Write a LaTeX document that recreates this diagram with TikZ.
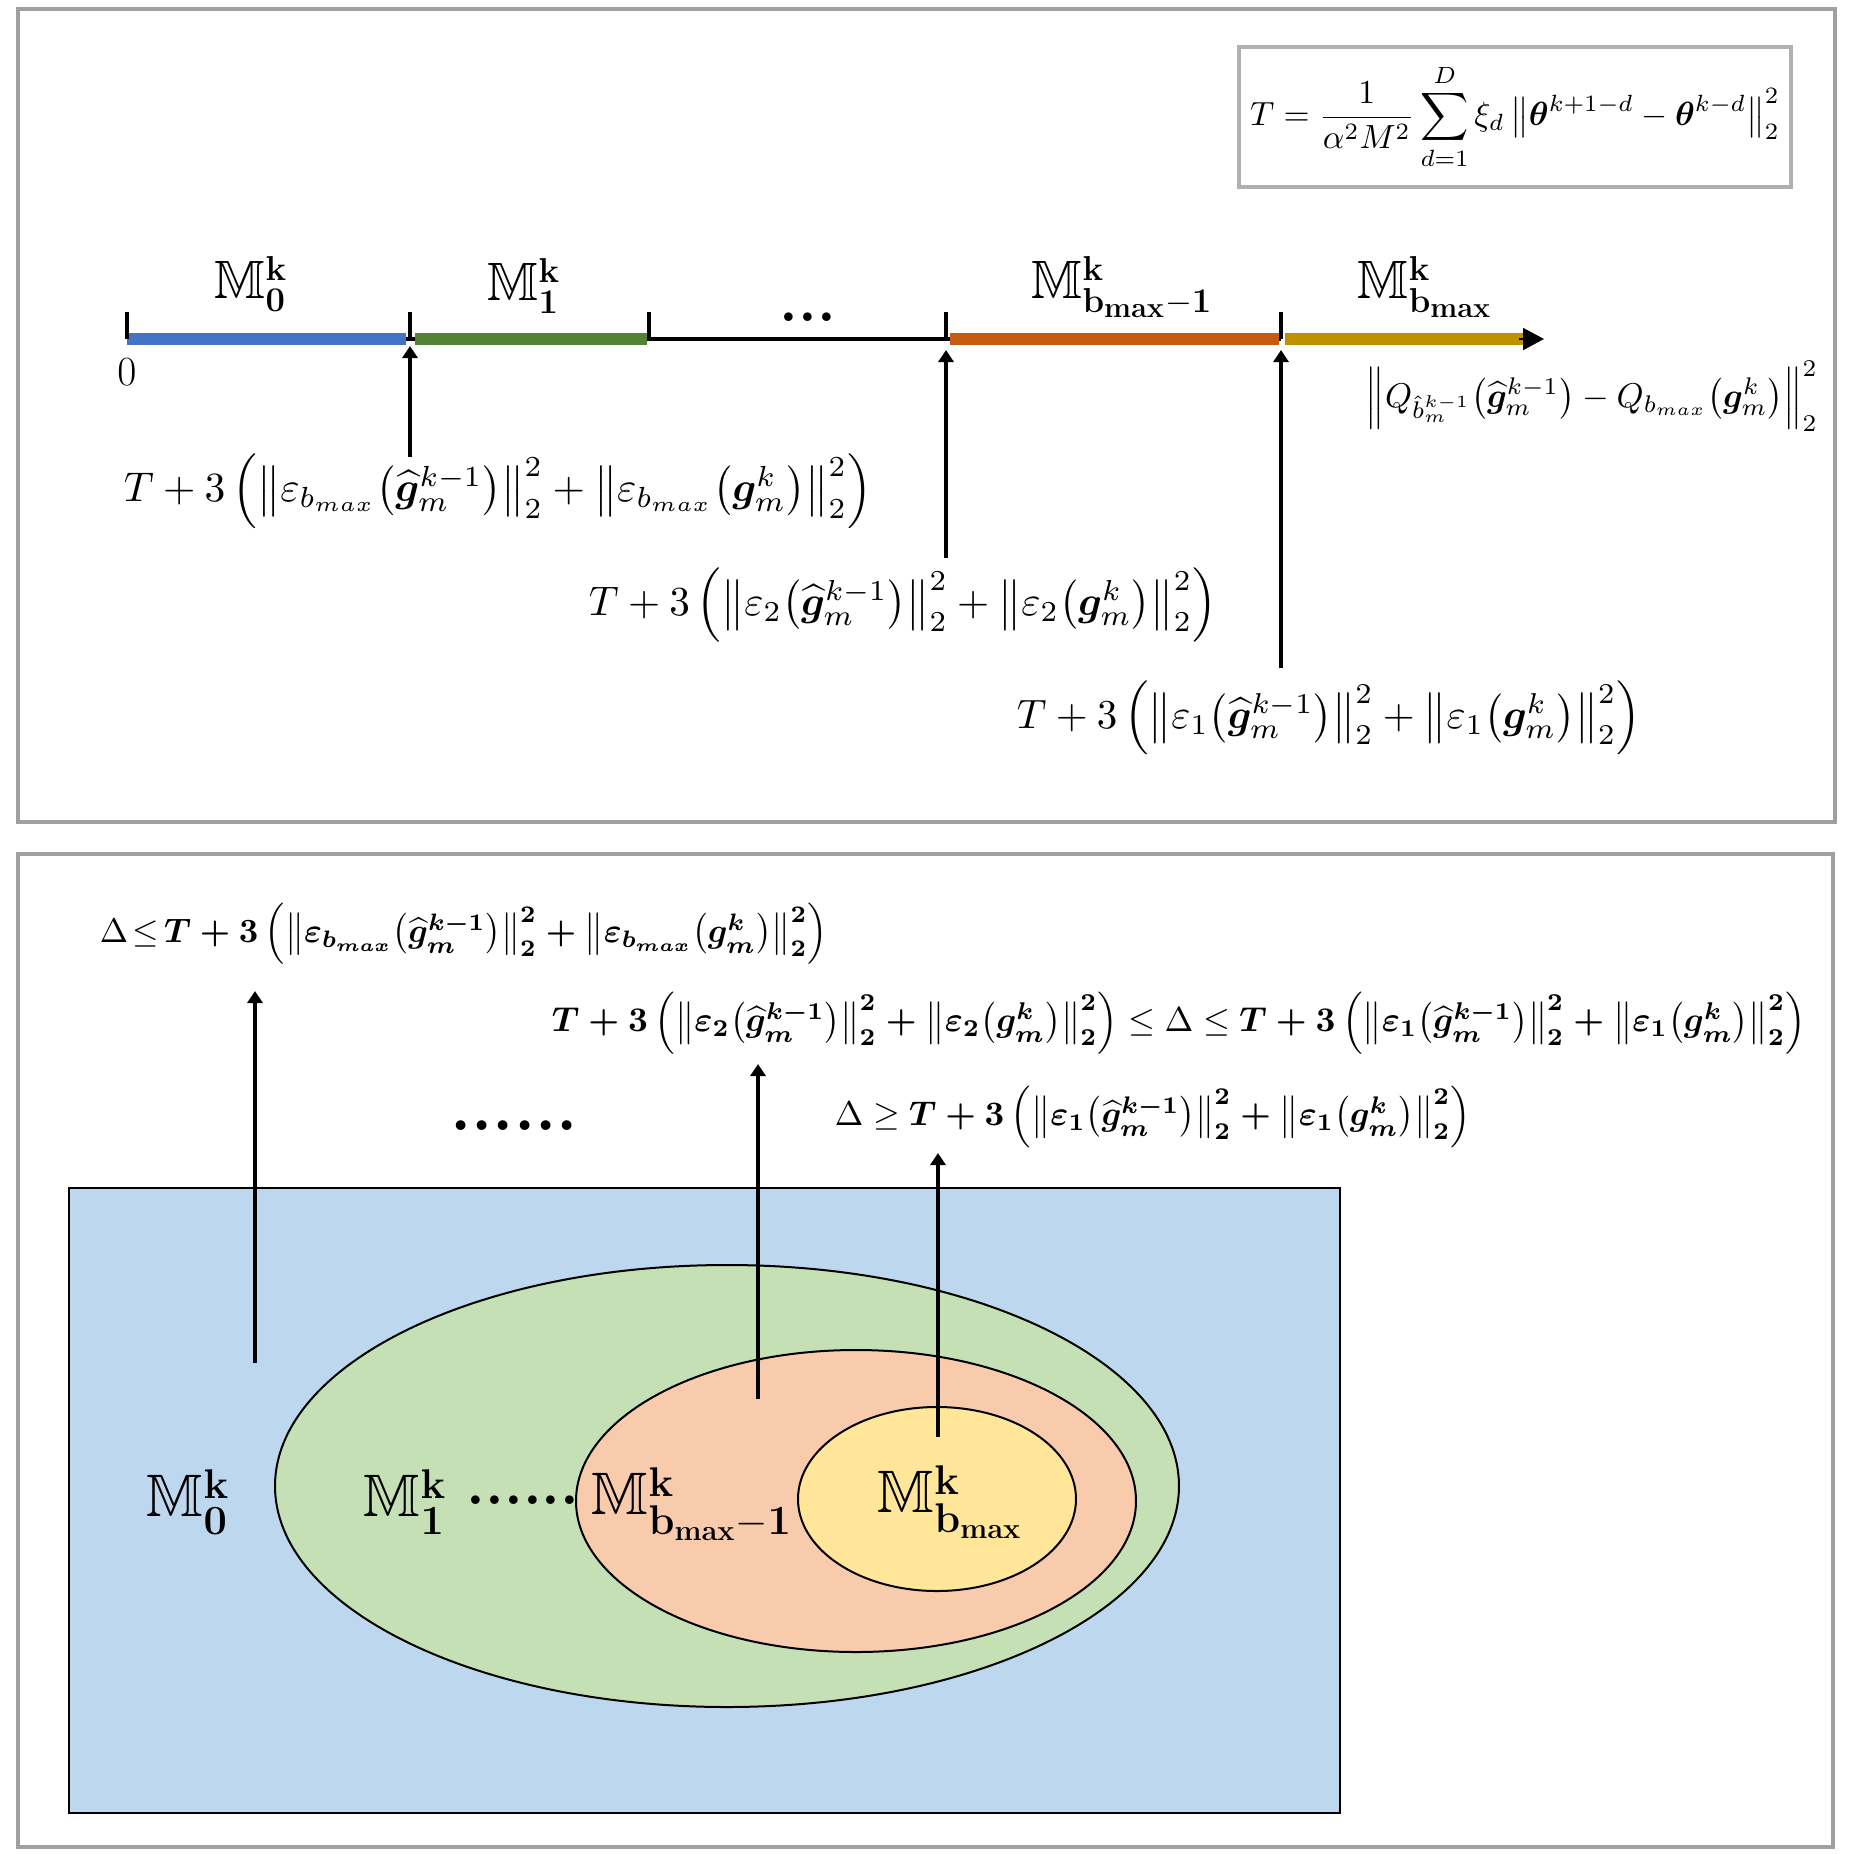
\documentclass[tikz,border=0pt]{standalone}
\usepackage{amsmath,amssymb,bm}
\usepackage{graphicx}
\usetikzlibrary{arrows.meta}
\definecolor{panelgray}{HTML}{A0A0A0}
\definecolor{boxgray}{HTML}{B0B0B0}
\definecolor{axblue}{HTML}{4472C4}
\definecolor{axgreen}{HTML}{548235}
\definecolor{axorange}{HTML}{C55A11}
\definecolor{axgold}{HTML}{BF9000}
\definecolor{setblue}{HTML}{BDD7EE}
\definecolor{setgreen}{HTML}{C5E0B4}
\definecolor{setorange}{HTML}{F8CBAD}
\definecolor{setyellow}{HTML}{FFE699}
\newcommand{\errterm}[1]{\left\|\varepsilon_{#1}\!\left(\widehat{\bm g}_m^{k-1}\right)\right\|_2^2+\left\|\varepsilon_{#1}\!\left(\bm g_m^{k}\right)\right\|_2^2}
\newcommand{\boundterm}[1]{T+3\left(\errterm{#1}\right)}
\newcommand{\bmx}{b_{max}}
\begin{document}
\begin{tikzpicture}[x=0.5pt,y=-0.5pt,
  panel/.style={draw=panelgray,line width=2pt},
  seg/.style={line width=6pt},
  tickmark/.style={line width=2pt},
  arr/.style={line width=2pt,-{Triangle[length=6pt,width=7.5pt]}},
  lbl/.style={inner sep=0pt},
  mlab/.style={inner sep=0pt,font=\fontsize{27}{30}\selectfont},
  mlabb/.style={inner sep=0pt,font=\fontsize{30}{33}\selectfont},
  setshape/.style={draw=black,line width=1pt}]
\useasboundingbox (0,0) rectangle (1854,1854);

% ---------------- top panel ----------------
\draw[panel] (18,9) rectangle (1835,822);
\node[draw=boxgray,line width=2pt,minimum width=276pt,minimum height=70pt,inner sep=0pt] (Tdef) at (1515,117)
  {\resizebox{265pt}{!}{$\displaystyle T=\frac{1}{\alpha^2M^2}\sum_{d=1}^{D}\xi_d\left\|\bm\theta^{k+1-d}-\bm\theta^{k-d}\right\|_2^2$}};

\coordinate (t0) at (127,339);
\coordinate (t1) at (410,339);
\coordinate (t2) at (649,339);
\coordinate (t3) at (946,339);
\coordinate (t4) at (1281,339);
\coordinate (gend) at (1523,339);
\coordinate (aend) at (1544,339);

\draw[line width=2pt] (t0) -- (t4);
\draw[seg,axblue] (t0) -- ([xshift=-2pt]t1);
\draw[seg,axgreen] ([xshift=2.5pt]t1) -- ([xshift=-1pt]t2);
\draw[seg,axorange] ([xshift=2pt]t3) -- ([xshift=-1pt]t4);
\draw[seg,axgold] ([xshift=2pt]t4) -- (gend);
\draw[line width=1pt,-{Triangle[length=10.5pt,width=11pt]}] ([xshift=-2pt]gend) -- (aend);
\foreach \t in {t0,t1,t2,t3,t4}{\draw[tickmark] (\t) -- ++(0,-27);}

\node[lbl,font=\fontsize{20}{24}\selectfont] (zero) at (127,372) {$0$};
\node[mlab] (m0) at (251,284) {$\mathbb{M}^{\mathbf{k}}_{\mathbf{0}}$};
\node[mlab] (m1) at (524,286) {$\mathbb{M}^{\mathbf{k}}_{\mathbf{1}}$};
\node[lbl,font=\fontsize{30}{30}\selectfont\bfseries] (tdots) at (808,317) {...};
\node[mlab] (mbm1) at (1122,287) {$\mathbb{M}^{\mathbf{k}}_{\mathbf{b_{max}-1}}$};
\node[mlab] (mbmax) at (1425,287) {$\mathbb{M}^{\mathbf{k}}_{\mathbf{b_{max}}}$};

\node[lbl] (Q) at (1592,396) {\resizebox{226pt}{!}{$\left\|Q_{\hat b_m^{k-1}}\!\left(\widehat{\bm g}_m^{k-1}\right)-Q_{\bmx}\!\left(\bm g_m^{k}\right)\right\|_2^2$}};

\node[lbl] (L1) at (498,491) {\resizebox{374pt}{!}{$\boundterm{\bmx}$}};
\node[lbl] (L2) at (903,605) {\resizebox{314pt}{!}{$\boundterm{2}$}};
\node[lbl] (L3) at (1329,718) {\resizebox{312pt}{!}{$\boundterm{1}$}};

\coordinate (a1b) at (410,457);  \coordinate (a1t) at (410,346);
\coordinate (a2b) at (946,558);  \coordinate (a2t) at (946,350);
\coordinate (a3b) at (1281,668); \coordinate (a3t) at (1281,350);
\draw[arr] (a1b) -- (a1t);
\draw[arr] (a2b) -- (a2t);
\draw[arr] (a3b) -- (a3t);

% ---------------- bottom panel ----------------
\draw[panel] (18,854) rectangle (1833,1847);
\draw[setshape,fill=setblue,line width=1.4pt] (69,1188) rectangle (1340,1813);
\draw[setshape,fill=setgreen] (727,1486) ellipse [x radius=226pt, y radius=110.5pt];
\draw[setshape,fill=setorange] (856,1501) ellipse [x radius=140pt, y radius=75.5pt];
\draw[setshape,fill=setyellow] (937,1499) ellipse [x radius=69.5pt, y radius=46pt];

\node[mlabb] (bm0) at (188,1502) {$\mathbb{M}^{\mathbf{k}}_{\mathbf{0}}$};
\node[mlabb] (bm1) at (405,1502) {$\mathbb{M}^{\mathbf{k}}_{\mathbf{1}}$};
\node[lbl,font=\fontsize{30}{30}\selectfont\bfseries] (mdots) at (523,1500) {......};
\node[mlabb] (bmbm1) at (692,1504) {$\mathbb{M}^{\mathbf{k}}_{\mathbf{b_{max}-1}}$};
\node[mlabb] (bmbmax) at (950,1502) {$\mathbb{M}^{\mathbf{k}}_{\mathbf{b_{max}}}$};

\node[lbl] (B1) at (464,934) {\resizebox{364pt}{!}{$\Delta\!\le$\,{\boldmath$T+3\left(\errterm{\bmx}\right)$}}};
\node[lbl] (B2) at (1179,1023) {\resizebox{627pt}{!}{{\boldmath$\boundterm{2}$}\;$\le\Delta\le$\;{\boldmath$\boundterm{1}$}}};
\node[lbl] (B3) at (1153,1117) {\resizebox{318pt}{!}{$\Delta\ge$\;{\boldmath$\boundterm{1}$}}};
\node[lbl,font=\fontsize{34}{34}\selectfont\bfseries] (bdots) at (514,1126) {......};

\coordinate (b1b) at (255,1363); \coordinate (b1t) at (255,991);
\coordinate (b2b) at (758,1399); \coordinate (b2t) at (758,1064);
\coordinate (b3b) at (938,1437); \coordinate (b3t) at (938,1153);
\draw[arr] (b1b) -- (b1t);
\draw[arr] (b2b) -- (b2t);
\draw[arr] (b3b) -- (b3t);
\end{tikzpicture}
\end{document}
